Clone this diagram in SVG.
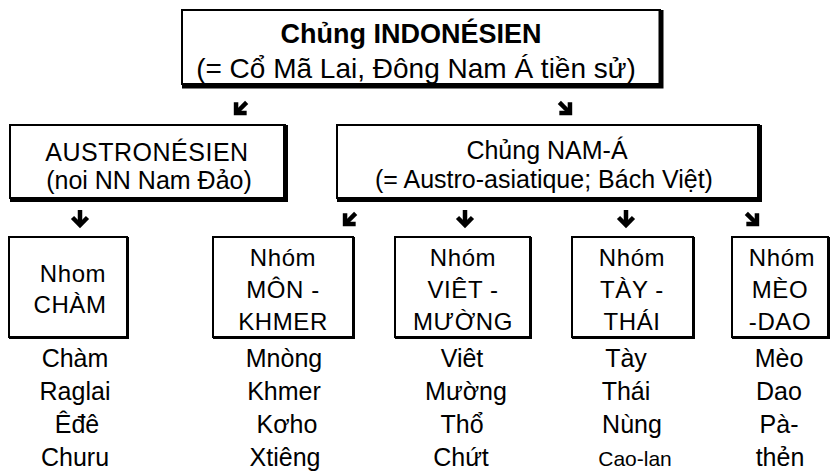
<svg xmlns="http://www.w3.org/2000/svg" width="831" height="471" viewBox="0 0 831 471">
<style>
  .bg { fill: #ffffff; }
  .box { fill: #ffffff; stroke: #000; stroke-width: 2; }
  .shadow { fill: none; stroke: #000; stroke-width: 5; }
  .shadow2 { fill: none; stroke: #000; stroke-width: 3; }
  text { font-family: "Liberation Sans", Arial, sans-serif; fill: #000; text-anchor: middle; }
  .t1 { font-size: 27px; font-weight: bold; }
  .t2 { font-size: 28px; }
  .m { font-size: 25px; }
  .b { font-size: 24px; letter-spacing: 0.6px; }
  .l { font-size: 25px; }
  .s { font-size: 21px; }
  .arr { fill: none; stroke: #000; stroke-width: 4.5; stroke-linecap: butt; stroke-linejoin: miter; }
</style>
<defs>
  <g id="down">
    <line class="arr" x1="0" y1="-8" x2="0" y2="6"/>
    <polyline class="arr" points="-7.5,-0.5 0,7 7.5,-0.5"/>
  </g>
</defs>
<rect class="bg" x="0" y="0" width="831" height="471"/>

<g id="n-indonesien">
  <rect class="box" x="182" y="10" width="478" height="74"/>
  <polyline class="shadow" points="182,86 661,86 661,10"/>
  <text class="t1" x="411" y="43">Chủng INDONÉSIEN</text>
  <text class="t2" x="416" y="78">(= Cổ Mã Lai, Đông Nam Á tiền sử)</text>
</g>

<g id="n-austronesien">
  <rect class="box" x="10" y="125" width="275" height="73"/>
  <polyline class="shadow" points="10,199.5 285.5,199.5 285.5,125"/>
  <text class="m" x="147" y="161" letter-spacing="0.5">AUSTRONÉSIEN</text>
  <text class="m" x="149" y="189">(noi NN Nam Đảo)</text>
</g>

<g id="n-nama">
  <rect class="box" x="337" y="125" width="422" height="73"/>
  <polyline class="shadow" points="337,199.5 759.5,199.5 759.5,125"/>
  <text class="m" x="547" y="159">Chủng NAM-Á</text>
  <text class="m" x="544" y="188">(= Austro-asiatique; Bách Việt)</text>
</g>

<g id="n-cham">
  <rect class="box" x="9" y="237" width="118" height="100"/>
  <polyline class="shadow2" points="9,337.5 127.5,337.5 127.5,237"/>
  <text class="b" x="73" y="282">Nhom</text>
  <text class="b" x="70" y="313">CHÀM</text>
  <text class="l" x="75" y="367">Chàm</text>
  <text class="l" x="75" y="400">Raglai</text>
  <text class="l" x="77" y="433">Êđê</text>
  <text class="l" x="75" y="466">Churu</text>
</g>

<g id="n-monkhmer">
  <rect class="box" x="213" y="237" width="140" height="100"/>
  <polyline class="shadow2" points="213,337.5 353.5,337.5 353.5,237"/>
  <text class="b" x="283" y="266">Nhóm</text>
  <text class="b" x="283" y="298">MÔN -</text>
  <text class="b" x="283" y="330">KHMER</text>
  <text class="l" x="284" y="367">Mnòng</text>
  <text class="l" x="284" y="400">Khmer</text>
  <text class="l" x="287" y="433">Kơho</text>
  <text class="l" x="285" y="466">Xtiêng</text>
</g>

<g id="n-vietmuong">
  <rect class="box" x="395" y="237" width="135" height="100"/>
  <polyline class="shadow2" points="395,337.5 530.5,337.5 530.5,237"/>
  <text class="b" x="463" y="266">Nhóm</text>
  <text class="b" x="463" y="298">VIÊT -</text>
  <text class="b" x="463" y="330">MƯỜNG</text>
  <text class="l" x="462" y="367">Viêt</text>
  <text class="l" x="466" y="400">Mường</text>
  <text class="l" x="462" y="433">Thổ</text>
  <text class="l" x="461" y="466">Chứt</text>
</g>

<g id="n-taythai">
  <rect class="box" x="572" y="237" width="121" height="100"/>
  <polyline class="shadow2" points="572,337.5 693.5,337.5 693.5,237"/>
  <text class="b" x="632" y="266">Nhóm</text>
  <text class="b" x="632" y="298">TÀY -</text>
  <text class="b" x="632" y="330">THÁI</text>
  <text class="l" x="626" y="367">Tày</text>
  <text class="l" x="626" y="400">Thái</text>
  <text class="l" x="632" y="433">Nùng</text>
  <text class="s" x="635" y="466">Cao-lan</text>
</g>

<g id="n-meodao">
  <rect class="box" x="732" y="237" width="96" height="100"/>
  <polyline class="shadow2" points="732,337.5 828.5,337.5 828.5,237"/>
  <text class="b" x="782" y="266">Nhóm</text>
  <text class="b" x="780" y="298">MÈO</text>
  <text class="b" x="780" y="330">-DAO</text>
  <text class="l" x="779" y="367">Mèo</text>
  <text class="l" x="779" y="400">Dao</text>
  <text class="l" x="779" y="433">Pà-</text>
  <text class="l" x="780" y="466">thẻn</text>
</g>

<g id="connectors">
  <use href="#down" transform="translate(241,108) rotate(45)"/>
  <use href="#down" transform="translate(565,108) rotate(-45)"/>
  <use href="#down" transform="translate(80,218)"/>
  <use href="#down" transform="translate(350,219) rotate(45)"/>
  <use href="#down" transform="translate(465,218)"/>
  <use href="#down" transform="translate(626,218)"/>
  <use href="#down" transform="translate(752,219) rotate(-45)"/>
</g>
</svg>
